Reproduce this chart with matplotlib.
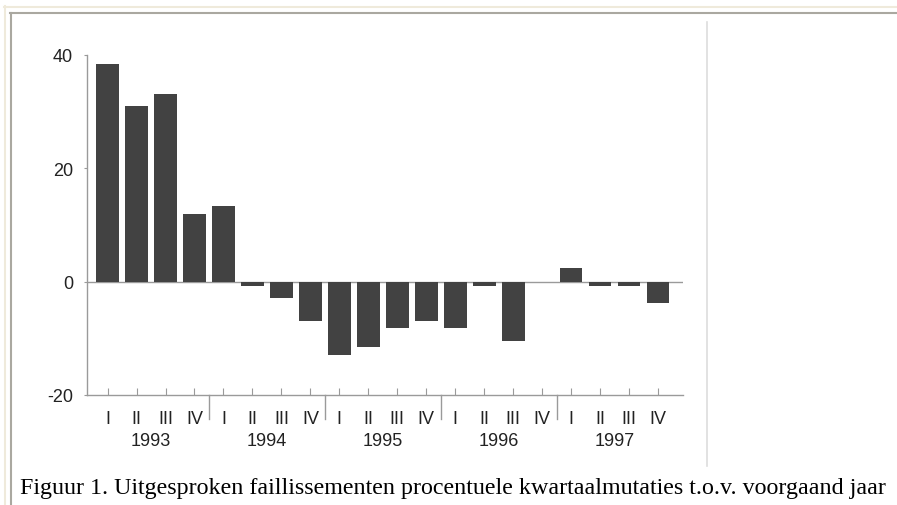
import numpy as np
import matplotlib
matplotlib.use("Agg")
import matplotlib.pyplot as plt
from matplotlib.lines import Line2D

# --------------------------
# DADOS
# --------------------------

jaren = ["1993", "1994", "1995", "1996", "1997"]
kwartalen = ["I", "II", "III", "IV"]
mutaties = [38.4, 31.0, 33.2, 12.0,
            13.3, -0.8, -2.9, -6.9,
            -12.9, -11.5, -8.1, -6.9,
            -8.1, -0.8, -10.4, 0.0,
            2.4, -0.8, -0.8, -3.8]
y_ticks = [-20, 0, 20, 40]
caption = "Figuur 1. Uitgesproken faillissementen procentuele kwartaalmutaties t.o.v. voorgaand jaar"

W, H = 897, 506
fig = plt.figure(figsize=(W / 100, H / 100), dpi=100)
fig.patch.set_facecolor("white")

# --------------------------
# PAGINA-RAND
# --------------------------

def hline(y, x0, x1, color, lw=1.5):
    fig.add_artist(Line2D([x0 / W, x1 / W], [1 - y / H, 1 - y / H],
                          color=color, lw=lw, transform=fig.transFigure))

def vline(x, y0, y1, color, lw=1.5):
    fig.add_artist(Line2D([x / W, x / W], [1 - y0 / H, 1 - y1 / H],
                          color=color, lw=lw, transform=fig.transFigure))

hline(7.5, 4, W, "#efeadb")
vline(5, 7, H, "#efeadb")
hline(14, 10, W, "#aaa8a0")
vline(11, 14, H, "#aaa8a0")
vline(707, 23, 467, "#dddddd", lw=1.2)

# --------------------------
# GRAFIEK
# --------------------------

x0, x1, ytop, ybot = 87, 683, 56, 396
ax = fig.add_axes([x0 / W, 1 - ybot / H, (x1 - x0) / W, (ybot - ytop) / H])

pos = np.arange(len(mutaties))
ax.bar(pos, mutaties, width=0.78, color="#424242", lw=0, zorder=3)
ax.axhline(0, color="#9a9a9a", lw=1.0, zorder=2)

ax.set_xlim(-0.71, len(mutaties) - 0.14)
ax.set_ylim(-20, 40)

for s in ["top", "right"]:
    ax.spines[s].set_visible(False)
for s in ["left", "bottom"]:
    ax.spines[s].set_color("#9a9a9a")
    ax.spines[s].set_linewidth(1.0)

ax.set_yticks(y_ticks)
ax.set_yticklabels([str(v) for v in y_ticks], family="Liberation Sans", fontsize=13, color="#222222")
ax.tick_params(axis="y", length=2, color="#9a9a9a", pad=8)

ax.set_xticks(pos)
ax.set_xticklabels([])
ax.tick_params(axis="x", direction="in", length=5, color="#9a9a9a")

trans = ax.get_xaxis_transform()
for i, p in enumerate(pos):
    ax.text(p, -0.045, kwartalen[i % 4], transform=trans, ha="center", va="top",
            family="Liberation Sans", fontsize=13, color="#222222")
for j, jaar in enumerate(jaren):
    ax.text(j * 4 + 1.5, -0.11, jaar, transform=trans, ha="center", va="top",
            family="Liberation Sans", fontsize=13, color="#222222")
    if j > 0:
        ax.add_line(Line2D([j * 4 - 0.5, j * 4 - 0.5], [0, -0.07], transform=trans,
                           color="#9a9a9a", lw=1.0, clip_on=False))

fig.text(20 / W, 1 - 489 / H, caption, family="Liberation Serif", fontsize=17.3,
         color="black", ha="left", va="center")

fig.savefig("out.png", dpi=100)
